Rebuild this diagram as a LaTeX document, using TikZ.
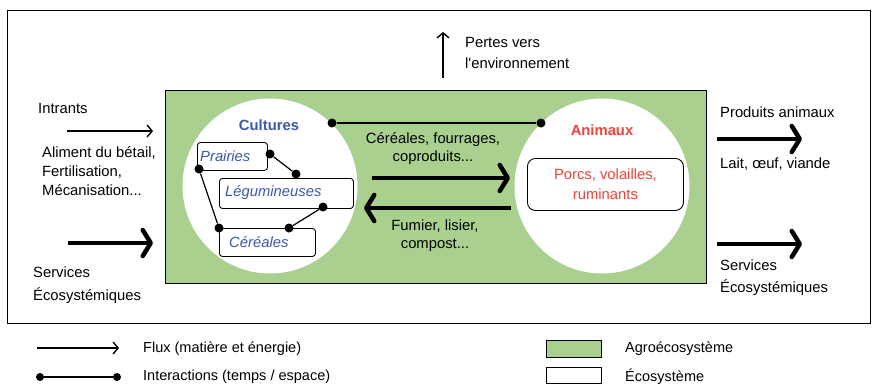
\documentclass[tikz,border=0pt]{standalone}
\usepackage{fontspec}
\setmainfont{Liberation Sans}
\usetikzlibrary{arrows.meta}
\definecolor{agro}{RGB}{169,208,142}
\definecolor{cblue}{RGB}{59,89,172}
\definecolor{cred}{RGB}{232,70,60}
\begin{document}
\begin{tikzpicture}[x=1pt,y=-1pt,
  txt/.style={inner sep=0pt,font=\fontsize{14.8}{17}\selectfont},
  ltxt/.style={txt,anchor=west},
  thin flux/.style={line width=1.4pt,-{Straight Barb[length=5pt,width=12pt]}},
  thick flux/.style={line width=4.5pt,-{Straight Barb[length=8pt,width=26pt,round]}},
  interact/.style={line width=1.2pt},
  dot/.style={circle,fill=black,inner sep=0pt,minimum size=9pt},
  sub/.style={draw,line width=0.9pt,rounded corners=3pt,inner sep=0pt},
  subtxt/.style={txt,text=cblue,font=\fontsize{14.8}{17}\selectfont\itshape},
  legtxt/.style={ltxt,font=\fontsize{14.5}{17}\selectfont}
]
\useasboundingbox (0,0) rectangle (876,386);
% outer ecosystem
\node[draw,line width=1pt,minimum width=863pt,minimum height=313pt,anchor=north west] (eco) at (7,10) {};
% agroecosystem
\node[draw,line width=1pt,fill=agro,minimum width=541pt,minimum height=193pt,anchor=north west] (agro) at (165,90) {};
% circles
\node[circle,fill=white,minimum size=175pt,inner sep=0pt] (cult) at (270,186) {};
\node[circle,fill=white,minimum size=175pt,inner sep=0pt] (anim) at (602,186) {};
\node[txt,font=\fontsize{14.8}{17}\selectfont\bfseries,text=cblue] (culttxt) at (269,125) {Cultures};
\node[txt,font=\fontsize{14.8}{17}\selectfont\bfseries,text=cred] (animtxt) at (602,130) {Animaux};
% sub boxes
\node[sub,minimum width=70pt,minimum height=28pt,anchor=north west] (prai) at (197,142) {};
\node[subtxt,anchor=west] at (200,156) {Prairies};
\node[sub,minimum width=134pt,minimum height=30pt,anchor=north west] (legu) at (219,178) {};
\node[subtxt,anchor=west] at (225,193) {Légumineuses};
\node[sub,minimum width=96pt,minimum height=28pt,anchor=north west] (cere) at (219,228) {};
\node[subtxt,anchor=west] at (229,242) {Céréales};
\node[draw,line width=0.9pt,rounded corners=8pt,minimum width=156pt,minimum height=52pt,anchor=north west] (porc) at (527,158) {};
\node[txt,text=cred,align=center,font=\fontsize{14.8}{20}\selectfont] at (porc.center) {Porcs, volailles,\\ruminants};
% interactions inside cultures
\node[dot] (d1) at (270,154) {};
\node[dot] (d2) at (296,174) {};
\draw[interact] (d1) -- (d2);
\node[dot] (d3) at (199,169) {};
\node[dot] (d4) at (219,228) {};
\draw[interact] (d3) -- (d4);
\node[dot] (d5) at (323,207) {};
\node[dot] (d6) at (289,228) {};
\draw[interact] (d5) -- (d6);
\node[dot] (d7) at (332,123) {};
\node[dot] (d8) at (541,123) {};
\draw[interact] (d7) -- (d8);
% flux between
\coordinate (f1a) at (372,178); \coordinate (f1b) at (510,178);
\draw[thick flux] (f1a) -- (f1b);
\coordinate (f2a) at (511,208); \coordinate (f2b) at (364,208);
\draw[thick flux] (f2a) -- (f2b);
\node[txt,align=center,font=\fontsize{14.8}{18}\selectfont] (t1) at (433,149) {Céréales, fourrages,\\coproduits...};
\node[txt,align=center,font=\fontsize{14.8}{18}\selectfont] (t2) at (435,236) {Fumier, lisier,\\compost...};
% losses
\coordinate (pa) at (443,78); \coordinate (pb) at (443,32);
\draw[thin flux] (pa) -- (pb);
\node[ltxt] (p1) at (465,42) {Pertes vers};
\node[ltxt] (p2) at (465,63) {l\textquotesingle environnement};
% left inputs
\node[ltxt] (in) at (38,108) {Intrants};
\coordinate (ia) at (67,131); \coordinate (ib) at (153,131);
\draw[thin flux] (ia) -- (ib);
\node[ltxt,align=left,font=\fontsize{14.8}{19}\selectfont] (al) at (42,171) {Aliment du bétail,\\Fertilisation,\\Mécanisation...};
\coordinate (sa) at (68,243); \coordinate (sb) at (153,243);
\draw[thick flux] (sa) -- (sb);
\node[ltxt,align=left,font=\fontsize{14.8}{23}\selectfont] (se) at (33,285) {Services\\Écosystémiques};
% right outputs
\node[ltxt] (pr) at (720,112) {Produits animaux};
\coordinate (ra) at (717,139); \coordinate (rb) at (802,139);
\draw[thick flux] (ra) -- (rb);
\node[ltxt] (la) at (720,164) {Lait, œuf, viande};
\coordinate (ra2) at (717,244); \coordinate (rb2) at (802,244);
\draw[thick flux] (ra2) -- (rb2);
\node[ltxt,align=left,font=\fontsize{14.8}{22}\selectfont] (se2) at (720,278) {Services\\Écosystémiques};
% legend
\coordinate (la1) at (37,348); \coordinate (la2) at (119,348);
\draw[thin flux] (la1) -- (la2);
\node[legtxt] (lt1) at (143,349) {Flux (matière et énergie)};
\node[dot,minimum size=8pt] (ld1) at (40,377) {};
\node[dot,minimum size=8pt] (ld2) at (117,377) {};
\draw[interact] (ld1) -- (ld2);
\node[legtxt] (lt2) at (143,377) {Interactions (temps / espace)};
\node[draw,line width=0.9pt,fill=agro,minimum width=55pt,minimum height=17pt,anchor=north west,inner sep=0pt] (lg1) at (546,340) {};
\node[legtxt] (lt3) at (625,349) {Agroécosystème};
\node[draw,line width=0.9pt,fill=white,minimum width=55pt,minimum height=16pt,anchor=north west,inner sep=0pt] (lg2) at (546,367) {};
\node[legtxt] (lt4) at (625,377) {Écosystème};
\end{tikzpicture}
\end{document}
